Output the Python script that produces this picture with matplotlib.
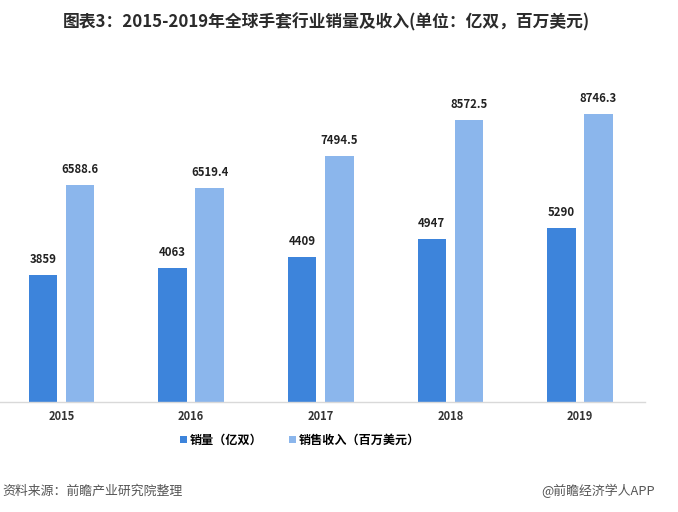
import matplotlib
matplotlib.use("Agg")
import matplotlib.pyplot as plt
import numpy as np
from matplotlib.patches import Patch

plt.rcParams['font.family'] = ['Noto Sans CJK SC', 'DejaVu Sans']

years = ['2015', '2016', '2017', '2018', '2019']
sales_volume = [3859, 4063, 4409, 4947, 5290]          # 亿双
sales_revenue = [6588.6, 6519.4, 7494.5, 8572.5, 8746.3]  # 百万美元
vol_labels = ['3859', '4063', '4409', '4947', '5290']
rev_labels = ['6588.6', '6519.4', '7494.5', '8572.5', '8746.3']
series_names = ['销量（亿双）', '销售收入（百万美元）']
title = '图表3：2015-2019年全球手套行业销量及收入(单位：亿双，百万美元)'
source = '资料来源：前瞻产业研究院整理'
brand = '@前瞻经济学人APP'

c_dark = '#3D84DB'
c_light = '#8BB6EC'

fig = plt.figure(figsize=(6.78, 5.12), dpi=100)
ax = fig.add_axes([0.0, 0.2148, 0.951, 0.857 - 0.2148])

x = np.arange(len(years))
w = 0.22
off = 0.143
b1 = ax.bar(x - off, sales_volume, width=w, color=c_dark)
b2 = ax.bar(x + off, sales_revenue, width=w, color=c_light)

for rect, lab in zip(b1, vol_labels):
    ax.annotate(lab, (rect.get_x() + rect.get_width() / 2, rect.get_height()),
                xytext=(0, 6.5), textcoords='offset points', ha='center', va='bottom',
                fontsize=8.2, fontweight='bold', color='#222222')
for rect, lab in zip(b2, rev_labels):
    ax.annotate(lab, (rect.get_x() + rect.get_width() / 2, rect.get_height()),
                xytext=(0, 6.5), textcoords='offset points', ha='center', va='bottom',
                fontsize=8.2, fontweight='bold', color='#222222')

ax.set_xlim(-0.474, 4.5)
ax.set_ylim(0, 10000)
ax.set_xticks(x)
ax.set_xticklabels(years, fontsize=8, fontweight='bold', color='#333333')
ax.tick_params(axis='x', length=0, pad=6)
ax.set_yticks([])
for s in ['top', 'right', 'left']:
    ax.spines[s].set_visible(False)
ax.spines['bottom'].set_color('#D9D9D9')
ax.spines['bottom'].set_linewidth(1.0)

handles = [Patch(facecolor=c_dark), Patch(facecolor=c_light)]
fig.legend(handles, series_names, loc='center', bbox_to_anchor=(0.443, 0.14),
           ncol=2, frameon=False, handlelength=0.55, handleheight=0.55,
           handletextpad=0.25, columnspacing=2.2,
           prop={'size': 8.7, 'weight': 'bold', 'family': ['Noto Sans CJK SC', 'DejaVu Sans']})

fig.text(63 / 678, 1 - 22 / 512, title, fontsize=12.1, fontweight='bold',
         color='#2b2b2b', ha='left', va='center')
fig.text(2 / 678, 1 - 491 / 512, source, fontsize=9.3, color='#555555',
         ha='left', va='center')
fig.text(655 / 678, 1 - 491 / 512, brand, fontsize=9.3, color='#555555',
         ha='right', va='center')

fig.savefig('out.png', dpi=100)
